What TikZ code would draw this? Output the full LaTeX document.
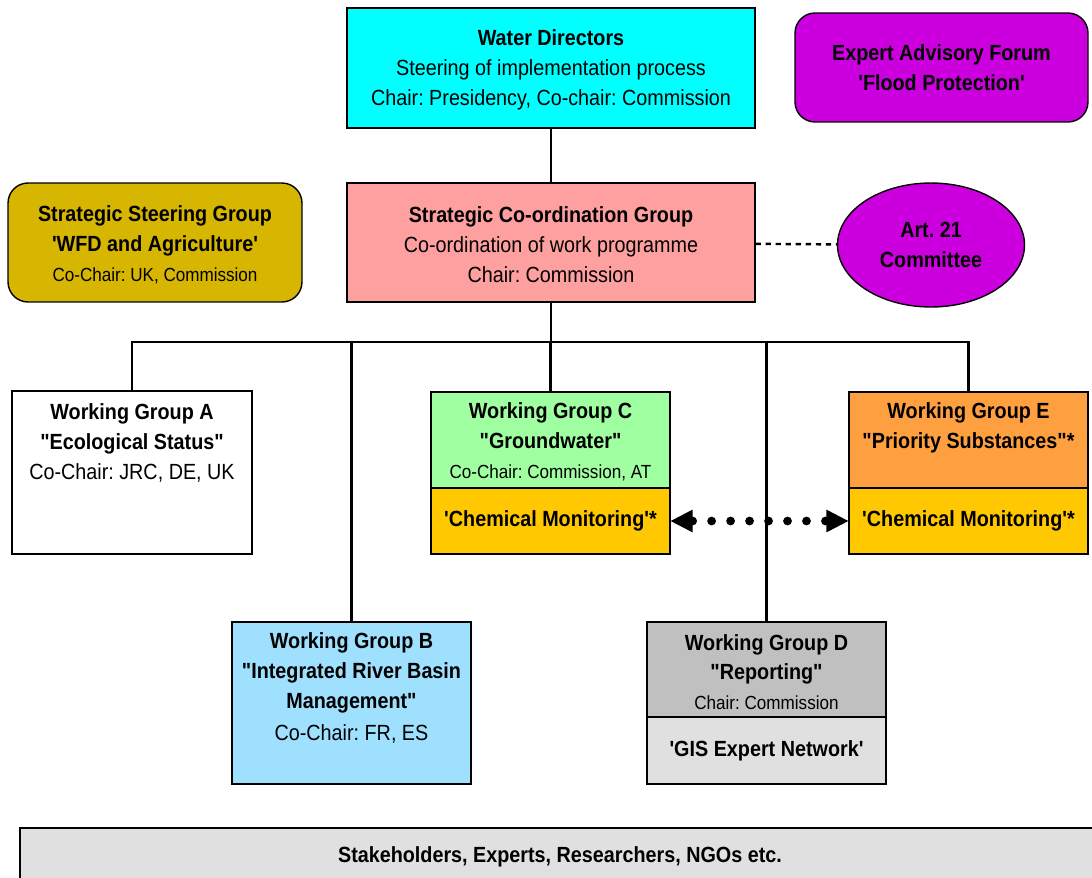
\documentclass[tikz,border=0pt]{standalone}
\usepackage{fontspec}
\setmainfont{Liberation Sans}[FakeStretch=0.9, Ligatures=TeXOff]
\usetikzlibrary{arrows.meta,shapes.geometric}

\definecolor{wdcyan}{RGB}{0,255,255}
\definecolor{eafpurple}{RGB}{204,0,222}
\definecolor{ssgolive}{RGB}{214,182,0}
\definecolor{scgpink}{RGB}{255,160,160}
\definecolor{wggreen}{RGB}{160,255,160}
\definecolor{wggold}{RGB}{255,200,0}
\definecolor{wgorange}{RGB}{255,160,64}
\definecolor{wgblue}{RGB}{160,224,255}
\definecolor{wggray}{RGB}{192,192,192}
\definecolor{wglight}{RGB}{224,224,224}

\newcommand{\smalltxt}{\fontsize{10.8}{17}\selectfont}
\frenchspacing

\begin{document}
\begin{tikzpicture}[x=0.02cm, y=-0.02cm,
    box/.style={rectangle, draw, line width=0.8pt, align=center, inner sep=0pt, font=\fontsize{12.5}{17}\selectfont},
    rbox/.style={box, rounded corners=0.4cm},
    txt/.style={align=center, inner sep=0pt, font=\fontsize{12.5}{17}\selectfont},
    wg/.style={box, minimum width=4.78cm},
    link/.style={line width=1.4pt},
    dotarrow/.style={line width=5pt, line cap=round, dash pattern=on 0pt off 10.8pt,
        {Triangle[length=12.5pt, width=13pt, line width=0pt]}-{Triangle[length=12.5pt, width=13pt, line width=0pt]}}
]
    \clip (0,0) rectangle (1092,877);

    % Top level
    \node[box, fill=wdcyan, minimum width=8.16cm, minimum height=2.4cm] (wd) at (551,68) {};
    \node[txt] (wdtext) at (551,70)
        {\textbf{Water Directors}\\ Steering of implementation process\\ Chair: Presidency, Co-chair: Commission};
    \node[rbox, fill=eafpurple, minimum width=5.86cm, minimum height=2.18cm] (eaf) at (941.5,67.5)
        {\textbf{Expert Advisory Forum}\\ \textbf{'Flood Protection'}};
    \node[rbox, fill=ssgolive, minimum width=5.88cm, minimum height=2.38cm] (ssg) at (155,242.5) {};
    \node[txt] (ssgtext) at (155,244.5)
        {\textbf{Strategic Steering Group}\\ \textbf{'WFD and Agriculture'}\\ {\smalltxt Co-Chair: UK, Commission}};
    \node[box, fill=scgpink, minimum width=8.16cm, minimum height=2.38cm] (scg) at (551,242.5) {};
    \node[txt] (scgtext) at (551,244.5)
        {\textbf{Strategic Co-ordination Group}\\ Co-ordination of work programme\\ Chair: Commission};
    \node[box, ellipse, fill=eafpurple, minimum width=3.74cm, minimum height=2.48cm] (art) at (931,245)
        {\textbf{Art. 21}\\ \textbf{Committee}};

    % Working groups
    \node[wg, fill=white, minimum width=4.8cm, minimum height=3.26cm] (wgA) at (132,472.5) {};
    \node[txt] (wgAtext) at (132,443)
        {\textbf{Working Group A}\\ \textbf{"Ecological Status"}\\ Co-Chair: JRC, DE, UK};

    \node[wg, fill=wggreen, minimum height=1.92cm] (wgC) at (550.5,440) {};
    \node[txt] (wgCtext) at (550.5,442)
        {\textbf{Working Group C}\\ \textbf{"Groundwater"}\\ {\smalltxt Co-Chair: Commission, AT}};
    \node[wg, fill=wggold, minimum height=1.32cm] (wgCsub) at (550.5,521) {\textbf{'Chemical Monitoring'*}};

    \node[wg, fill=wgorange, minimum height=1.92cm] (wgE) at (968.5,440) {};
    \node[txt] (wgEtext) at (968.5,428)
        {\textbf{Working Group E}\\ \textbf{"Priority Substances"*}};
    \node[wg, fill=wggold, minimum height=1.32cm] (wgEsub) at (968.5,521) {\textbf{'Chemical Monitoring'*}};

    \node[wg, fill=wgblue, minimum height=3.24cm] (wgB) at (351.5,703) {};
    \node[txt] (wgBtext) at (351.5,688)
        {\textbf{Working Group B}\\ \textbf{"Integrated River Basin}\\ \textbf{Management"}\\[1pt] Co-Chair: FR, ES};

    \node[wg, fill=wggray, minimum height=1.9cm] (wgD) at (766.5,669.5) {};
    \node[txt] (wgDtext) at (766.5,672)
        {\textbf{Working Group D}\\ \textbf{"Reporting"}\\ {\smalltxt Chair: Commission}};
    \node[wg, fill=wglight, minimum height=1.34cm] (wgDsub) at (766.5,750.5) {\textbf{'GIS Expert Network'}};

    % Stakeholders
    \node[box, fill=wglight, minimum width=21.6cm, minimum height=1.16cm, font=\fontsize{12.5}{17}\selectfont\bfseries] (stake) at (560,857)
        {Stakeholders, Experts, Researchers, NGOs etc.};

    % Connections
    \coordinate (bus) at (551,342);
    \draw[link] (wd) -- (scg);
    \draw[link] (scg) -- (bus);
    \draw[link] (wgA.north) -- (wgA.north |- bus) -- (wgE.north |- bus) -- (wgE.north);
    \draw[link] (wgB.north |- bus) -- (wgB.north);
    \draw[link] (wgC.north |- bus) -- (wgC.north);
    \draw[link] (wgD.north |- bus) -- (wgD.north);
    \draw[link, dash pattern=on 3pt off 2.7pt] (scg) -- (art);
    \draw[dotarrow] (wgCsub) -- (wgEsub);
\end{tikzpicture}
\end{document}
